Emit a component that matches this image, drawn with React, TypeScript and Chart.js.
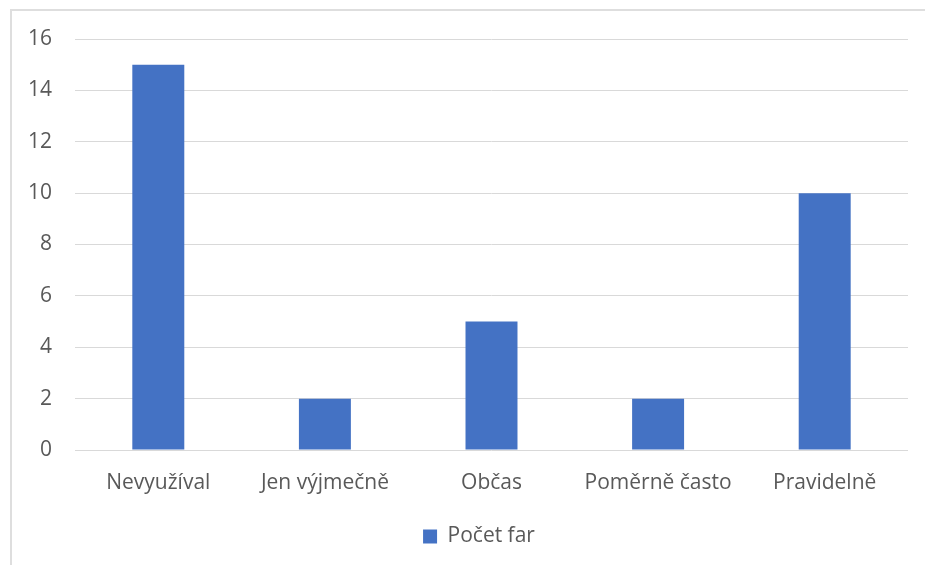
import React, { useEffect, useRef } from "react";
import { Chart, registerables } from "chart.js";

Chart.register(...registerables);

const categories = ["Nevyužíval", "Jen výjmečně", "Občas", "Poměrně často", "Pravidelně"];
const seriesLabel = "Počet far";
const seriesValues = [15, 2, 5, 2, 10];
const yMin = 0;
const yMax = 16;
const yStep = 2;

const FONT = "'Open Sans', sans-serif";
const TEXT = "#595959";

export default function App() {
  const ref = useRef<HTMLCanvasElement | null>(null);

  useEffect(() => {
    document.body.style.margin = "0";
    const ctx = ref.current!;
    const chart = new Chart(ctx, {
      type: "bar",
      data: {
        labels: categories,
        datasets: [
          {
            label: seriesLabel,
            data: seriesValues,
            backgroundColor: "#4472C4",
            borderWidth: 0,
            categoryPercentage: 1,
            barPercentage: 0.312,
          },
        ],
      },
      options: {
        animation: false,
        responsive: false,
        maintainAspectRatio: false,
        devicePixelRatio: 1,
        layout: { padding: { top: 39, left: 50, right: 50, bottom: 8 } },
        plugins: {
          tooltip: { enabled: false },
          legend: {
            position: "bottom",
            labels: {
              boxWidth: 14,
              boxHeight: 14,
              color: TEXT,
              font: { family: FONT, size: 21 },
              padding: 10,
            },
          },
        },
        scales: {
          x: {
            grid: { display: false, drawTicks: false },
            border: { display: false },
            ticks: {
              color: TEXT,
              font: { family: FONT, size: 21 },
              padding: 20,
              maxRotation: 0,
              autoSkip: false,
            },
            afterFit: (s: any) => {
              s.height = 66;
            },
          },
          y: {
            min: yMin,
            max: yMax,
            grid: { color: "#D9D9D9", lineWidth: 1, drawTicks: false },
            border: { display: false },
            ticks: {
              stepSize: yStep,
              color: TEXT,
              font: { family: FONT, size: 21 },
              mirror: true,
              crossAlign: "far",
              padding: -47,
            },
            afterFit: (s: any) => {
              s.width = 25;
            },
          },
        },
      },
    });
    return () => chart.destroy();
  }, []);

  return (
    <div style={{ position: "fixed", left: 0, top: 0, width: 925, height: 565, overflow: "hidden", background: "#fff" }}>
      <div
        style={{
          position: "absolute",
          left: 10,
          top: 9,
          width: 1200,
          height: 1200,
          borderTop: "2px solid #DEDEDE",
          borderLeft: "2px solid #DEDEDE",
        }}
      />
      <canvas ref={ref} width={958} height={565} style={{ position: "absolute", left: 0, top: 0, width: 958, height: 565 }} />
    </div>
  );
}
